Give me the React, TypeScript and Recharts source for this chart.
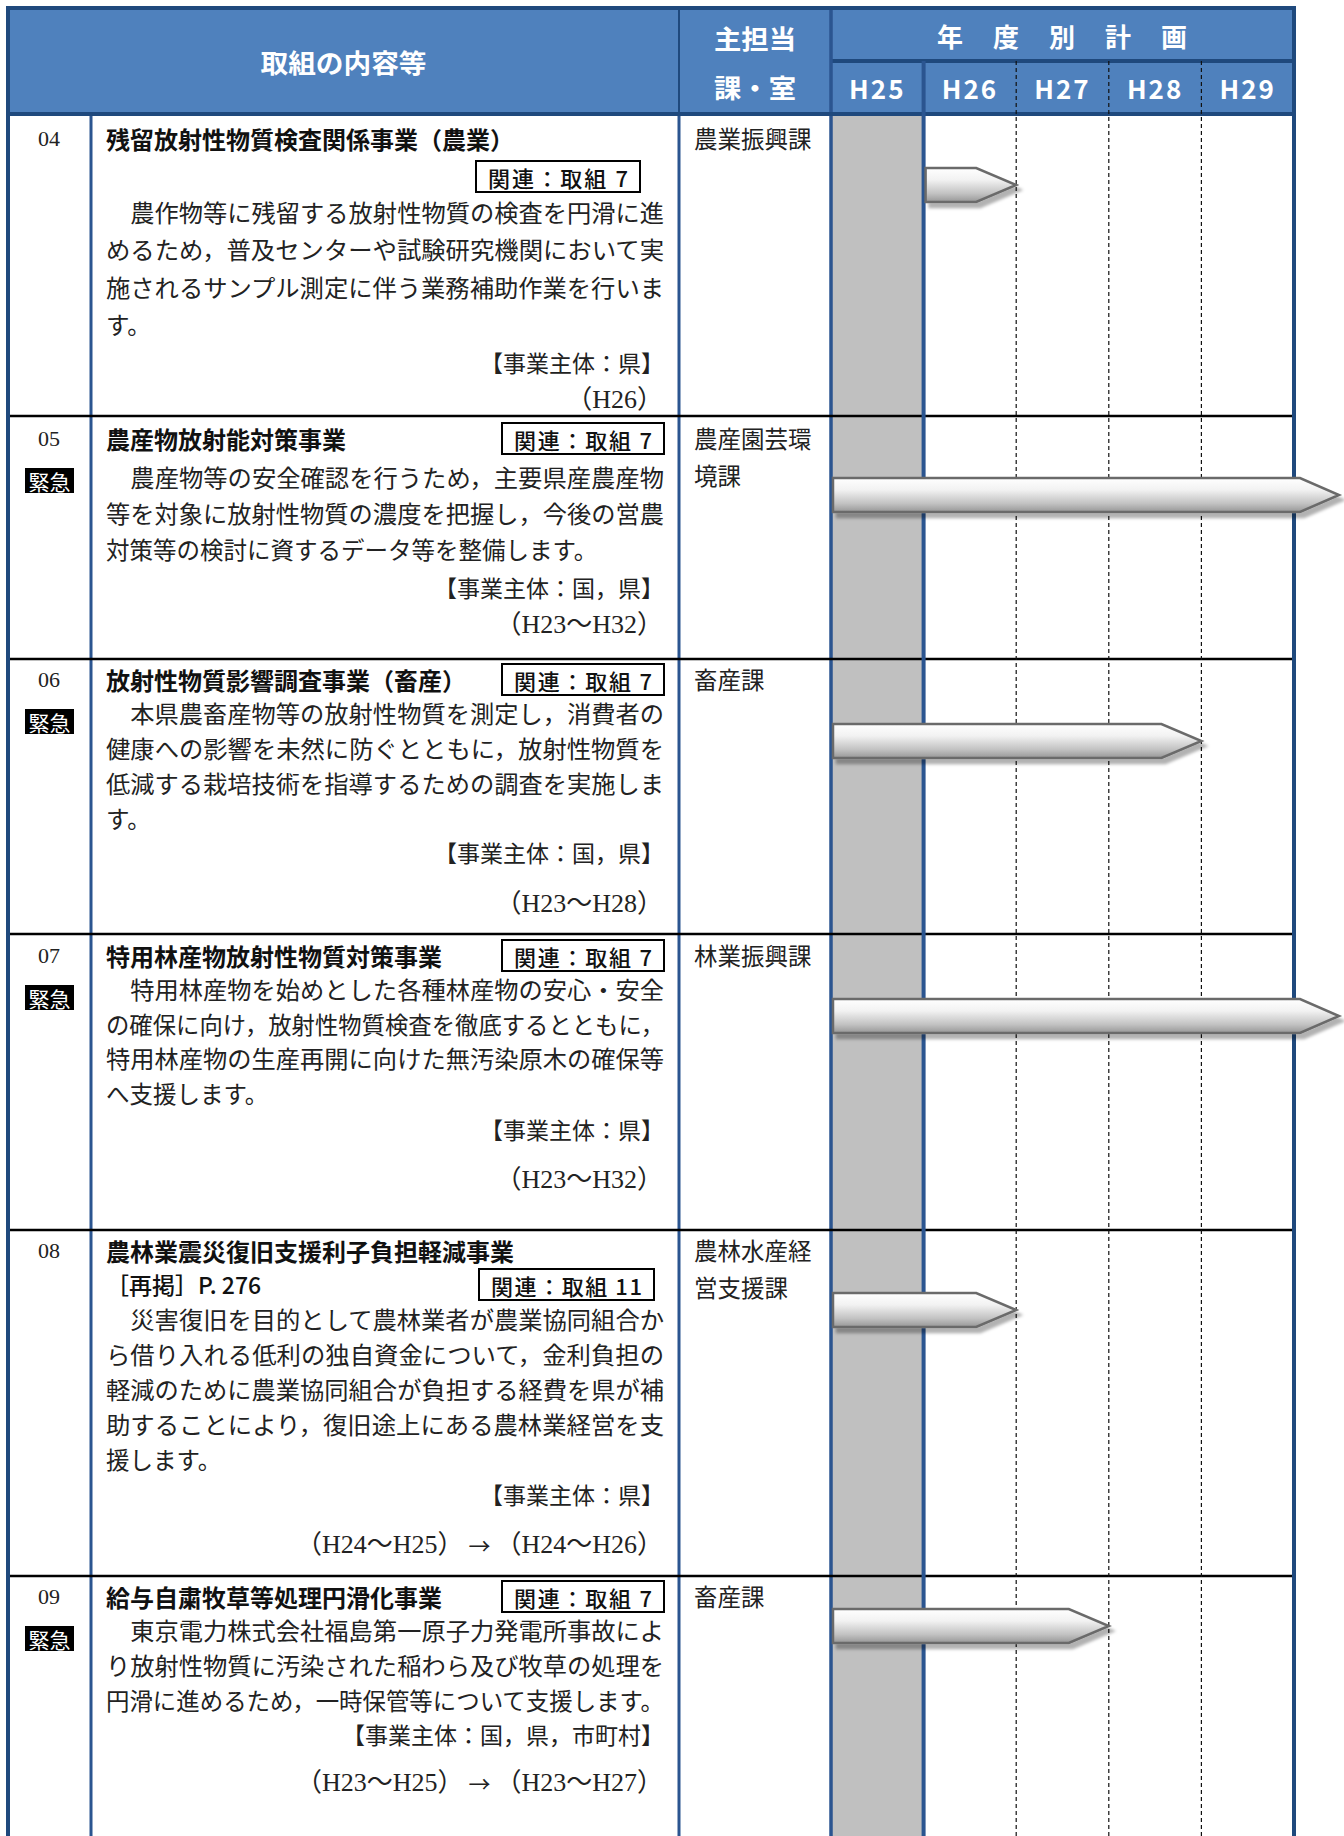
import React from 'react';
import { ComposedChart, XAxis, YAxis, ReferenceArea, ReferenceLine, Customized } from 'recharts';

// ---------------- data ----------------
const ROW_IDS = ['04', '05', '06', '07', '08', '09'];
const URGENT = [false, true, true, true, false, true];
const TITLES = [
  '残留放射性物質検査関係事業（農業）',
  '農産物放射能対策事業',
  '放射性物質影響調査事業（畜産）',
  '特用林産物放射性物質対策事業',
  '農林業震災復旧支援利子負担軽減事業',
  '給与自粛牧草等処理円滑化事業',
];
const SUBTITLES = ['', '', '', '', '［再掲］P. 276', ''];
const RELATED = ['関連：取組 7', '関連：取組 7', '関連：取組 7', '関連：取組 7', '関連：取組 11', '関連：取組 7'];
const DEPTS = [['農業振興課'], ['農産園芸環', '境課'], ['畜産課'], ['林業振興課'], ['農林水産経', '営支援課'], ['畜産課']];
const DESC_04 = ['　農作物等に残留する放射性物質の検査を円滑に進', 'めるため，普及センターや試験研究機関において実', '施されるサンプル測定に伴う業務補助作業を行いま', 'す。'];
const DESC_05 = ['　農産物等の安全確認を行うため，主要県産農産物', '等を対象に放射性物質の濃度を把握し，今後の営農', '対策等の検討に資するデータ等を整備します。'];
const DESC_06 = ['　本県農畜産物等の放射性物質を測定し，消費者の', '健康への影響を未然に防ぐとともに，放射性物質を', '低減する栽培技術を指導するための調査を実施しま', 'す。'];
const DESC_07 = ['　特用林産物を始めとした各種林産物の安心・安全', 'の確保に向け，放射性物質検査を徹底するとともに，', '特用林産物の生産再開に向けた無汚染原木の確保等', 'へ支援します。'];
const DESC_08 = ['　災害復旧を目的として農林業者が農業協同組合か', 'ら借り入れる低利の独自資金について，金利負担の', '軽減のために農業協同組合が負担する経費を県が補', '助することにより，復旧途上にある農林業経営を支', '援します。'];
const DESC_09 = ['　東京電力株式会社福島第一原子力発電所事故によ', 'り放射性物質に汚染された稲わら及び牧草の処理を', '円滑に進めるため，一時保管等について支援します。'];
const DESCRIPTIONS = [DESC_04, DESC_05, DESC_06, DESC_07, DESC_08, DESC_09];
const ACTORS = ['【事業主体：県】', '【事業主体：国，県】', '【事業主体：国，県】', '【事業主体：県】', '【事業主体：県】', '【事業主体：国，県，市町村】'];
const PERIODS = ['（H26）', '（H23～H32）', '（H23～H28）', '（H23～H32）', '（H24～H25）→（H24～H26）', '（H23～H25）→（H23～H27）'];
const START_YEAR = [26, 23, 23, 23, 24, 23];
const END_YEAR = [26, 32, 28, 32, 26, 27];
const PLAN_YEARS = [25, 26, 27, 28, 29];
const YEAR_LABELS = ['H25', 'H26', 'H27', 'H28', 'H29'];
const CURRENT_YEAR = 25;

// ---------------- layout ----------------
const W = 1344;
const H = 1836;
const T_L = 8;
const T_R = 1294;
const HEAD_T = 8;
const HEAD_MID = 61;
const BODY_T = 114;
const C_NUM = 91;
const C_TEXT = 679;
const C_DEPT = 831;
const ROW_TOPS = [114, 416, 659, 934, 1230, 1576];
const TITLE_Y = [138, 438, 679, 955, 1250, 1596];
const BADGE_Y = [176, 438, 679, 955, 1284, 1596];
const BADGE_X = [[476, 640], [502, 664], [502, 664], [502, 664], [479, 654], [502, 664]];
const DESC_Y0 = [212, 477, 713, 989, 1319, 1630];
const DESC_GAP = [37.4, 36, 35, 34.7, 35, 35];
const ACTOR_Y = [362, 587, 852, 1129, 1494, 1734];
const PERIOD_Y = [399, 624, 903, 1179, 1544, 1782];
const ARROW_Y = [185, 495, 741, 1016, 1310, 1626];
const ARROW_H = 34;

const NAVY = '#2B5590';
const DARK = '#1F497D';
const HEAD_FILL = '#4F81BD';
const JP = "'Noto Sans CJK JP', 'Noto Sans', sans-serif";
const SERIF = "'Liberation Serif', 'DejaVu Serif', 'Noto Sans CJK JP', serif";
const TEXT_L = 106;
const TEXT_R = 664;

const chartData = ROW_IDS.map((id, i) => ({ id, start: START_YEAR[i], end: END_YEAR[i] }));

const renderPeriod = (s: string) => {
  const parts = s.split('→');
  const out: any[] = [];
  parts.forEach((p, k) => {
    if (k > 0) out.push(<tspan key={'a' + k} fontFamily={JP} fontSize={22}>{' → '}</tspan>);
    out.push(<tspan key={'p' + k}>{p}</tspan>);
  });
  return out;
};

const TableLayer = () => {
  return (
    <g>
      <defs>
        <linearGradient id="arrowGrad" x1="0" y1="0" x2="0" y2="1">
          <stop offset="0" stopColor="#ffffff" />
          <stop offset="0.35" stopColor="#f2f2f2" />
          <stop offset="0.75" stopColor="#c2c2c2" />
          <stop offset="1" stopColor="#979797" />
        </linearGradient>
        <filter id="arrowShadow" x="-10%" y="-30%" width="130%" height="180%">
          <feDropShadow dx="4" dy="5" stdDeviation="1.6" floodColor="#000" floodOpacity="0.3" />
        </filter>
      </defs>
      {/* header */}
      <rect x={T_L} y={HEAD_T} width={T_R - T_L} height={BODY_T - HEAD_T} fill={HEAD_FILL} />
      <text x={(T_L + C_TEXT) / 2} y={61} textAnchor="middle" dominantBaseline="central" fill="#fff" fontSize={26} fontWeight={700} fontFamily={JP} textLength={166} lengthAdjust="spacingAndGlyphs">取組の内容等</text>
      <text x={(C_TEXT + C_DEPT) / 2} y={37} textAnchor="middle" dominantBaseline="central" fill="#fff" fontSize={26} fontWeight={700} fontFamily={JP} textLength={82} lengthAdjust="spacingAndGlyphs">主担当</text>
      <text x={(C_TEXT + C_DEPT) / 2} y={86} textAnchor="middle" dominantBaseline="central" fill="#fff" fontSize={26} fontWeight={700} fontFamily={JP} textLength={82} lengthAdjust="spacingAndGlyphs">課・室</text>
      <text x={1062} y={35} textAnchor="middle" dominantBaseline="central" fill="#fff" fontSize={26} fontWeight={700} fontFamily={JP} textLength={250} lengthAdjust="spacing">年度別計画</text>
      <line x1={C_DEPT} y1={HEAD_MID} x2={T_R} y2={HEAD_MID} stroke={DARK} strokeWidth={4} />
      <line x1={C_TEXT} y1={HEAD_T} x2={C_TEXT} y2={BODY_T} stroke={DARK} strokeWidth={2} />
      {/* body vertical lines */}
      <line x1={C_NUM} y1={BODY_T} x2={C_NUM} y2={H} stroke={NAVY} strokeWidth={3} />
      <line x1={C_TEXT} y1={BODY_T} x2={C_TEXT} y2={H} stroke={NAVY} strokeWidth={3} />
      <line x1={C_DEPT} y1={HEAD_T} x2={C_DEPT} y2={H} stroke={NAVY} strokeWidth={3.5} />
      {/* row separators */}
      {ROW_TOPS.slice(1).map((y, i) => (
        <line key={'r' + i} x1={T_L} y1={y} x2={T_R} y2={y} stroke="#000" strokeWidth={2.5} />
      ))}
      {/* outer borders */}
      <line x1={T_L} y1={HEAD_T} x2={T_L} y2={H} stroke={DARK} strokeWidth={4} />
      <line x1={T_R} y1={HEAD_T} x2={T_R} y2={H} stroke={DARK} strokeWidth={4} />
      <line x1={T_L - 2} y1={HEAD_T} x2={T_R + 2} y2={HEAD_T} stroke={DARK} strokeWidth={4} />
      <line x1={T_L - 2} y1={BODY_T} x2={T_R + 2} y2={BODY_T} stroke={DARK} strokeWidth={4} />
      {/* row texts */}
      {ROW_IDS.map((id, i) => {
        const desc = DESCRIPTIONS[i];
        const [bx0, bx1] = BADGE_X[i];
        return (
          <g key={id}>
            <text x={49} y={TITLE_Y[i]} textAnchor="middle" dominantBaseline="central" fill="#222" fontSize={22} fontFamily={SERIF}>{id}</text>
            {URGENT[i] && (
              <g>
                <rect x={25} y={TITLE_Y[i] + 30} width={49} height={25} fill="#000" />
                <text x={49.5} y={TITLE_Y[i] + 42.5} textAnchor="middle" dominantBaseline="central" fill="#fff" fontSize={21} fontWeight={400} fontFamily={JP}>緊急</text>
              </g>
            )}
            <text x={TEXT_L} y={TITLE_Y[i]} dominantBaseline="central" fill="#111" fontSize={24} fontWeight={700} fontFamily={JP}>{TITLES[i]}</text>
            {SUBTITLES[i] && (
              <text x={TEXT_L} y={BADGE_Y[i]} dominantBaseline="central" fill="#111" fontSize={23} fontWeight={500} fontFamily={JP}>{SUBTITLES[i]}</text>
            )}
            <rect x={bx0} y={BADGE_Y[i] - 15} width={bx1 - bx0} height={31} fill="#fff" stroke="#000" strokeWidth={2} />
            <text x={(bx0 + bx1) / 2} y={BADGE_Y[i] + 0.5} textAnchor="middle" dominantBaseline="central" fill="#111" fontSize={22} fontWeight={500} fontFamily={JP} textLength={bx1 - bx0 - 24} lengthAdjust="spacing">{RELATED[i]}</text>
            {desc.map((line, k) => {
              const justify = k < desc.length - 1 || line.length >= 23;
              return (
                <text key={k} x={TEXT_L} y={DESC_Y0[i] + k * DESC_GAP[i]} dominantBaseline="central" fill="#222" fontSize={23.5} fontWeight={400} fontFamily={JP} style={{ whiteSpace: 'pre' }} {...(justify ? { textLength: TEXT_R - TEXT_L, lengthAdjust: 'spacingAndGlyphs' } : {})}>{line}</text>
              );
            })}
            <text x={664} y={ACTOR_Y[i]} textAnchor="end" dominantBaseline="central" fill="#222" fontSize={23} fontFamily={JP}>{ACTORS[i]}</text>
            <text x={663} y={PERIOD_Y[i]} textAnchor="end" dominantBaseline="central" fill="#222" fontSize={26} fontFamily={SERIF}>{renderPeriod(PERIODS[i])}</text>
            {DEPTS[i].map((d, k) => (
              <text key={'d' + k} x={694} y={TITLE_Y[i] + k * 37} dominantBaseline="central" fill="#222" fontSize={23.5} fontFamily={JP}>{d}</text>
            ))}
          </g>
        );
      })}
    </g>
  );
};

const YearTick = (p: any) => {
  const v = Math.floor(p.payload.value);
  return (
    <text x={p.x} y={87} textAnchor="middle" dominantBaseline="central" fill="#fff" fontSize={26} fontWeight={700} fontFamily={JP} letterSpacing={2}>
      {YEAR_LABELS[PLAN_YEARS.indexOf(v)]}
    </text>
  );
};

const renderArrow = (p: any, overflow: boolean) => {
  const { x, y, width, height } = p;
  const tip = 40;
  const x0 = x + 2;
  let bodyEnd: number;
  let tipX: number;
  if (overflow) {
    bodyEnd = x + width + 6;
    tipX = x + width + 45;
  } else {
    tipX = x + width;
    bodyEnd = tipX - tip;
  }
  const pts = `${x0},${y} ${bodyEnd},${y} ${tipX},${y + height / 2} ${bodyEnd},${y + height} ${x0},${y + height}`;
  return (
    <g>
      <polygon points={pts} fill="url(#arrowGrad)" stroke="#6b6b6b" strokeWidth={2.5} filter="url(#arrowShadow)" />
    </g>
  );
};

const lastYear = PLAN_YEARS[PLAN_YEARS.length - 1] + 1;

export default function App() {
  return (
    <div style={{ position: 'absolute', left: 0, top: 0, width: W, height: H, background: '#fff' }}>
      <ComposedChart
        width={W}
        height={H}
        data={chartData}
        margin={{ top: HEAD_MID, right: W - T_R, bottom: 0, left: C_DEPT }}
      >
        <XAxis
          dataKey="start"
          type="number"
          domain={[PLAN_YEARS[0], lastYear]}
          orientation="top"
          height={BODY_T - HEAD_MID}
          ticks={PLAN_YEARS.map((y) => y + 0.5)}
          interval={0}
          axisLine={false}
          tickLine={false}
          tick={<YearTick />}
          allowDataOverflow
        />
        <YAxis type="number" domain={[BODY_T, H]} reversed hide allowDataOverflow />
        <ReferenceArea
          x1={CURRENT_YEAR}
          x2={CURRENT_YEAR + 1}
          y1={BODY_T}
          y2={H}
          fill="#c0c0c0"
          fillOpacity={1}
          stroke="none"
          ifOverflow="visible"
          zIndex={-60}
        />
        <Customized component={TableLayer} />
        <ReferenceLine
          segment={[{ x: CURRENT_YEAR + 1, y: HEAD_MID }, { x: CURRENT_YEAR + 1, y: H }]}
          stroke={NAVY}
          strokeWidth={4}
          ifOverflow="visible"
          zIndex={450}
        />
        {PLAN_YEARS.slice(2).map((yr) => (
          <ReferenceLine
            key={yr}
            segment={[{ x: yr, y: HEAD_MID }, { x: yr, y: H }]}
            stroke="#111"
            strokeWidth={1.2}
            strokeDasharray="4 3"
            ifOverflow="visible"
            zIndex={450}
          />
        ))}
        {chartData.map((r, i) => (
          <ReferenceArea
            key={r.id}
            x1={Math.max(r.start, PLAN_YEARS[0])}
            x2={Math.min(r.end + 1, lastYear)}
            y1={ARROW_Y[i] - ARROW_H / 2}
            y2={ARROW_Y[i] + ARROW_H / 2}
            ifOverflow="visible"
            zIndex={700}
            shape={(p: any) => renderArrow(p, r.end + 1 > lastYear)}
          />
        ))}
      </ComposedChart>
    </div>
  );
}
